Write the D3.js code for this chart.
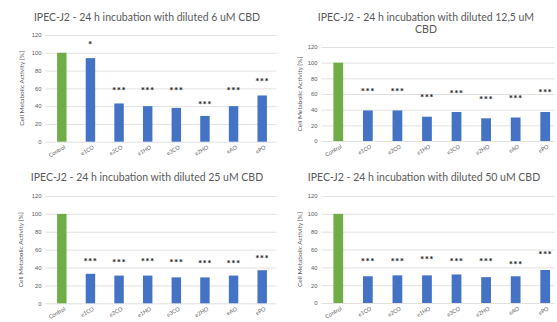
<!DOCTYPE html>
<html>
<head>
<meta charset="utf-8">
<script src="https://cdn.jsdelivr.net/npm/d3@7"></script>
<style>
  body { margin: 0; background: #fff; }
  svg { display: block; font-family: Lato, "Open Sans", sans-serif; }
</style>
</head>
<body>
<div id="chart"></div>
<script>
// categories and tick labels
var categories = ["Control", "e1CO", "e2CO", "e1HO", "e3CO", "e2HO", "eAO", "ePO"];
var yTicks = [0, 20, 40, 60, 80, 100, 120];

// cell metabolic activity [%] per dilution
var values6 = [100, 94, 43, 40, 38, 29, 40, 52];
var values12 = [100, 39, 39, 31, 37, 29, 30, 37];
var values25 = [100, 33, 31, 31, 29, 29, 31, 37];
var values50 = [100, 30, 31, 31, 32, 29, 30, 37];

// significance marks and the height (in %) where they sit
var stars6 = ["", "*", "***", "***", "***", "***", "***", "***"];
var starAt6 = [0, 110, 59, 59, 59, 43, 59, 69];
var stars12 = ["", "***", "***", "***", "***", "***", "***", "***"];
var starAt12 = [0, 64, 64, 57, 62, 54, 55, 63];
var stars25 = ["", "***", "***", "***", "***", "***", "***", "***"];
var starAt25 = [0, 48, 47, 48, 47, 46, 46, 51];
var stars50 = ["", "***", "***", "***", "***", "***", "***", "***"];
var starAt50 = [0, 48, 48, 50, 48, 48, 44, 55];

var titles = [
  ["IPEC-J2 - 24 h incubation with diluted 6 uM CBD"],
  ["IPEC-J2 - 24 h incubation with diluted 12,5 uM", "CBD"],
  ["IPEC-J2 - 24 h incubation with diluted 25 uM CBD"],
  ["IPEC-J2 - 24 h incubation with diluted 50 uM CBD"]
];

var W = 557, H = 322;
var svg = d3.select("#chart").append("svg")
  .attr("width", W)
  .attr("height", H);

// layout of the four panels
var panels = [
  { vals: values6,  stars: stars6,  starAt: starAt6,  title: titles[0], x0: 47.5, x1: 276.5, yTop: 35,  yBot: 141.7, tx: 147, ty: 21, yl: 24 },
  { vals: values12, stars: stars12, starAt: starAt12, title: titles[1], x0: 323.5, x1: 560, yTop: 47,  yBot: 141,   tx: 426, ty: 21, yl: 302 },
  { vals: values25, stars: stars25, starAt: starAt25, title: titles[2], x0: 47.5, x1: 276.5, yTop: 196, yBot: 303.3, tx: 147, ty: 181, yl: 23 },
  { vals: values50, stars: stars50, starAt: starAt50, title: titles[3], x0: 323.5, x1: 560, yTop: 196, yBot: 303,   tx: 424, ty: 181, yl: 302 }
];

panels.forEach(function(p) {
  var g = svg.append("g");

  var x = d3.scaleBand()
    .domain(categories)
    .range([p.x0, p.x1])
    .paddingInner(0.67)
    .paddingOuter(0.335);

  var y = d3.scaleLinear()
    .domain([0, 120])
    .range([p.yBot, p.yTop]);

  // gridlines
  g.selectAll(".grid")
    .data(yTicks)
    .enter().append("line")
    .attr("x1", p.x0 - 2)
    .attr("x2", Math.min(p.x1, 555))
    .attr("y1", function(d) { return y(d) + 0.5; })
    .attr("y2", function(d) { return y(d) + 0.5; })
    .attr("stroke", "#d9d9d9")
    .attr("stroke-width", 0.8);

  // y tick labels
  var ax = g.append("g")
    .attr("transform", "translate(" + (p.x0 - 6) + ",0)")
    .call(d3.axisLeft(y).tickValues(yTicks).tickSize(0).tickPadding(0));
  ax.select(".domain").remove();
  ax.selectAll("text")
    .attr("fill", "#595959")
    .style("font-size", "5.8px");

  // bars
  g.selectAll(".bar")
    .data(p.vals)
    .enter().append("rect")
    .attr("x", function(d, i) { return x(categories[i]); })
    .attr("width", x.bandwidth())
    .attr("y", function(d) { return y(d); })
    .attr("height", function(d) { return y(0) - y(d); })
    .attr("fill", function(d, i) { return i == 0 ? "#70ad47" : "#4472c4"; });

  // significance stars
  g.selectAll(".star")
    .data(p.stars)
    .enter().append("text")
    .attr("x", function(d, i) { return x(categories[i]) + x.bandwidth() / 2; })
    .attr("y", function(d, i) { return y(p.starAt[i]) + 4.5; })
    .attr("text-anchor", "middle")
    .style("font-size", "10px")
    .style("font-weight", "bold")
    .style("letter-spacing", "0.4px")
    .attr("fill", "#1a1a1a")
    .text(function(d) { return d; });

  // category labels, tilted
  g.selectAll(".cat")
    .data(categories)
    .enter().append("text")
    .attr("transform", function(d) {
      return "translate(" + (x(d) + x.bandwidth() / 2 + 3) + "," + (p.yBot + 5) + ") rotate(-30)";
    })
    .attr("text-anchor", "end")
    .attr("dy", "0.35em")
    .attr("fill", "#595959")
    .style("font-size", "5.5px")
    .text(function(d) { return d; });

  // y axis title
  g.append("text")
    .attr("transform", "translate(" + p.yl + "," + ((p.yTop + p.yBot) / 2) + ") rotate(-90)")
    .attr("text-anchor", "middle")
    .attr("fill", "#595959")
    .style("font-size", "6.5px")
    .text("Cell Metabolic Activity [%]");

  // title
  g.selectAll(".title")
    .data(p.title)
    .enter().append("text")
    .attr("x", p.tx)
    .attr("y", function(d, i) { return p.ty + i * 11.5; })
    .attr("text-anchor", "middle")
    .attr("fill", "#595959")
    .style("font-size", "10.5px")
    .text(function(d) { return d; });
});
</script>
</body>
</html>
